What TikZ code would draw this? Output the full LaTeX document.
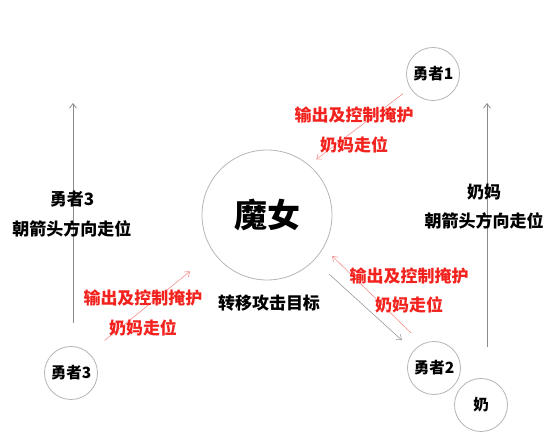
\documentclass[tikz,border=0pt]{standalone}
\usepackage{fontspec}
\setmainfont{Noto Sans CJK SC}
\usepackage{xcolor}
\definecolor{ring}{HTML}{B4B4B4}
\definecolor{pathg}{HTML}{8C8C8C}
\definecolor{hot}{HTML}{F2231E}
\definecolor{hotl}{HTML}{F39090}
\usetikzlibrary{arrows.meta,positioning,calc}
\tikzset{
  >={Straight Barb[length=1.6mm,width=2.4mm]},
  unit/.style={circle,draw=ring,line width=0.8pt,minimum size=53pt,inner sep=0pt,font=\bfseries\fontsize{15.5}{18}\selectfont},
  boss/.style={unit,minimum size=130pt,font=\bfseries\fontsize{33}{36}\selectfont},
  lab/.style={font=\bfseries\fontsize{17}{29.5}\selectfont,align=center},
  hlab/.style={lab,text=hot},
  walk/.style={->,draw=pathg,line width=0.8pt},
  cover/.style={->,draw=hotl,line width=0.6pt},
  retarget/.style={->,draw=pathg,line width=0.5pt},
}
\begin{document}
\begin{tikzpicture}[x=1pt,y=-1pt]
\useasboundingbox (0,0) rectangle (550,443);
% units
\node[boss] (witch) at (267,215) {魔女};
\node[unit] (h1) at (433,74) {勇者1};
\node[unit] (h2) at (434,368) {勇者2};
\node[unit] (h3) at (71,373) {勇者3};
\node[unit] (nai) at (481,405) {奶};
% walking directions
\coordinate (l0) at (73,323); \coordinate (l1) at (73,103);
\coordinate (r0) at (487,347); \coordinate (r1) at (487,103);
\draw[walk] (l0) -- (l1);
\draw[walk] (r0) -- (r1);
\node[lab] (t3) at (72,214) {勇者3\\朝箭头方向走位};
\node[lab] (tn) at (484,206.5) {奶妈\\朝箭头方向走位};
% cover lines
\draw[cover,shorten <=9pt,shorten >=9pt] (h1.212.3) -- (witch.50.5);
\draw[cover,shorten <=20pt,shorten >=30pt] (h3.48.5) -- (witch.215.5);
\draw[cover,shorten <=15.5pt,shorten >=12pt] (h2.116.6) -- (witch.330.4);
\draw[retarget,shorten <=20.6pt,shorten >=15.6pt] (witch.316.4) -- (h2.140.7);
\node[hlab] (c1) at (354,130) {输出及控制掩护\\奶妈走位};
\node[hlab] (c2) at (409,290.5) {输出及控制掩护\\奶妈走位};
\node[hlab] (c3) at (143,313) {输出及控制掩护\\奶妈走位};
\node[lab] (tw) at (269,303) {转移攻击目标};
\end{tikzpicture}
\end{document}
